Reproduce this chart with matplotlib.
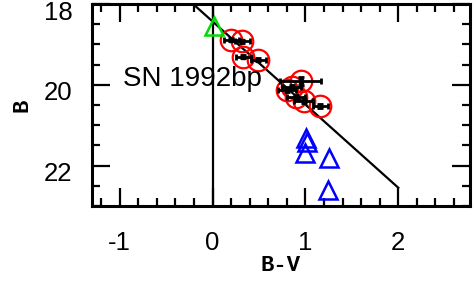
import numpy as np
import matplotlib
matplotlib.use('Agg')
import matplotlib.pyplot as plt
import matplotlib.transforms as mtransforms
from matplotlib.ticker import MultipleLocator, FuncFormatter

# --- DATA ---
# red circled points (with error bars)
bv_red = [0.20, 0.32, 0.33, 0.49, 0.95, 0.85, 0.80, 0.90, 0.98, 1.16]
b_red = [18.88, 18.92, 19.30, 19.38, 19.90, 20.05, 20.12, 20.30, 20.40, 20.52]
bv_err = [0.08, 0.08, 0.08, 0.08, 0.22, 0.10, 0.10, 0.10, 0.10, 0.08]
b_err = [0.04, 0.04, 0.04, 0.04, 0.10, 0.05, 0.05, 0.05, 0.05, 0.05]

# green triangle
bv_green = [0.01]
b_green = [18.54]

# blue triangles
bv_blue = [1.01, 1.02, 0.99, 1.25, 1.24]
b_blue = [21.33, 21.42, 21.68, 21.82, 22.60]

# reference lines
line_bv = [-0.21, 2.0]
line_b = [18.0, 22.55]

plt.rcParams['font.family'] = ['Liberation Sans', 'DejaVu Sans']

fig = plt.figure(figsize=(4.76, 2.86), dpi=100)
ax = fig.add_axes([0.193, 0.28, 0.794, 0.706])

ax.axvline(0, color='black', lw=1.6, zorder=1)
ax.plot(line_bv, line_b, color='black', lw=1.6, zorder=1)

ax.errorbar(bv_red, b_red, xerr=bv_err, yerr=b_err, fmt='s', ms=3.5, color='black',
            ecolor='black', elinewidth=2, capsize=2.5, capthick=2, zorder=3)
ax.plot(bv_red, b_red, 'o', ms=15.5, mfc='none', mec='red', mew=1.6, zorder=2)
ax.plot(bv_green, b_green, '^', ms=13, mfc='none', mec='#00dd00', mew=1.8, zorder=2)
ax.plot(bv_blue, b_blue, '^', ms=13, mfc='none', mec='blue', mew=1.8, zorder=2)

ax.text(-0.97, 19.85, 'SN 1992bp', fontsize=20, ha='left', va='center')

ax.set_xlim(-1.3, 2.77)
ax.set_ylim(23, 18)

ax.xaxis.set_major_locator(MultipleLocator(1))
ax.xaxis.set_minor_locator(MultipleLocator(0.2))
ax.yaxis.set_major_locator(MultipleLocator(2))
ax.yaxis.set_minor_locator(MultipleLocator(0.5))
ax.xaxis.set_major_formatter(FuncFormatter(lambda v, p: '%d' % round(v)))
ax.yaxis.set_major_formatter(FuncFormatter(lambda v, p: '%d' % round(v)))

ax.tick_params(which='both', direction='in', top=True, right=True, width=1.6)
ax.tick_params(which='major', length=13, labelsize=18.5)
ax.tick_params(which='minor', length=6)
ax.tick_params(axis='x', which='major', pad=18)
ax.tick_params(axis='y', which='major', pad=14)

for lab in ax.get_yticklabels():
    lab.set_transform(lab.get_transform() +
                      mtransforms.ScaledTranslation(0, -0.06, fig.dpi_scale_trans))

for s in ax.spines.values():
    s.set_linewidth(2.2)

ax.set_xlabel('B-V', fontfamily='Liberation Mono', fontweight='bold', fontsize=16, labelpad=0)
ax.set_ylabel('B', fontfamily='Liberation Mono', fontweight='bold', fontsize=16, labelpad=8)

fig.savefig('out.png', dpi=100)
